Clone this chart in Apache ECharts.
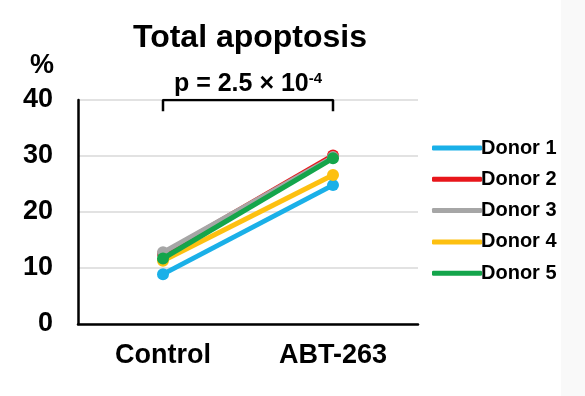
<!DOCTYPE html>
<html>
<head>
<meta charset="utf-8">
<script src="https://cdn.jsdelivr.net/npm/echarts@6/dist/echarts.min.js"></script>
<style>
  html, body { margin: 0; padding: 0; background: #fff; }
  #chart { width: 585px; height: 396px; }
</style>
</head>
<body>
<div id="chart"></div>
<script>
var categories = ['Control', 'ABT-263'];
var donorNames = ['Donor 1', 'Donor 2', 'Donor 3', 'Donor 4', 'Donor 5'];
var donorColors = ['#1ab0e8', '#e8161b', '#a6a6a6', '#fdc010', '#14a54b'];
var donor1 = [8.9, 24.8];
var donor2 = [12.5, 30.1];
var donor3 = [12.8, 29.8];
var donor4 = [11.3, 26.6];
var donor5 = [11.7, 29.6];
var yTicks = [0, 10, 20, 30, 40];
var bracket = [['Control', 38], ['Control', 40], ['ABT-263', 40], ['ABT-263', 38]];

var donorValues = [donor1, donor2, donor3, donor4, donor5];
var font = 'Liberation Sans, Arial, sans-serif';

var myChart = echarts.init(document.getElementById('chart'));

var series = donorNames.map(function (name, i) {
  return {
    name: name,
    type: 'line',
    data: donorValues[i],
    symbol: 'circle',
    symbolSize: 12,
    lineStyle: { width: 5, color: donorColors[i] },
    itemStyle: { color: donorColors[i] },
    z: 3 + i
  };
});

// significance bracket
series.push({
  name: 'bracket',
  type: 'line',
  data: bracket,
  symbol: 'none',
  lineStyle: { width: 2.5, color: '#000' },
  silent: true,
  z: 10
});

var option = {
  backgroundColor: '#fff',
  animation: false,
  title: [
    {
      text: 'Total apoptosis',
      left: 245,
      top: 17,
      textAlign: 'center',
      textStyle: { fontFamily: font, fontSize: 32, fontWeight: 'bold', color: '#000' }
    },
    {
      text: '%',
      left: 37,
      top: 47,
      textAlign: 'center',
      textStyle: { fontFamily: font, fontSize: 27, fontWeight: 'bold', color: '#000' }
    },
    {
      text: 'p = 2.5 × 10{sup|-4}',
      left: 243,
      top: 66,
      textAlign: 'center',
      textStyle: {
        fontFamily: font, fontSize: 25, fontWeight: 'bold', color: '#000',
        rich: {
          sup: { fontFamily: font, fontSize: 15, fontWeight: 'bold', color: '#000', verticalAlign: 'top', padding: [0, 0, 12, 0] }
        }
      }
    }
  ],
  legend: {
    data: donorNames,
    orient: 'vertical',
    left: 427,
    top: 133,
    itemWidth: 50,
    itemHeight: 5,
    itemGap: 11.3,
    icon: 'roundRect',
    textStyle: { fontFamily: font, fontSize: 20, fontWeight: 'bold', color: '#000', padding: [0, 0, 0, -6] }
  },
  graphic: [
    { type: 'rect', shape: { x: 561, y: 0, width: 24, height: 396 }, style: { fill: '#f9f9f9' }, silent: true, z: -10 }
  ],
  grid: { left: 78, right: 167, top: 100, bottom: 72 },
  xAxis: {
    type: 'category',
    data: categories,
    boundaryGap: true,
    axisLine: { lineStyle: { color: '#000', width: 2.5 } },
    axisTick: { show: false },
    axisLabel: { fontFamily: font, fontSize: 27, fontWeight: 'bold', color: '#000', margin: 18 }
  },
  yAxis: {
    type: 'value',
    min: yTicks[0],
    max: yTicks[yTicks.length - 1],
    interval: 10,
    axisLine: { show: true, lineStyle: { color: '#000', width: 2.5 } },
    axisTick: { show: false },
    splitLine: { lineStyle: { color: '#d9d9d9', width: 1.5 } },
    axisLabel: { fontFamily: font, fontSize: 27, fontWeight: 'bold', color: '#000', margin: 25 }
  },
  series: series
};

myChart.setOption(option);
</script>
</body>
</html>
